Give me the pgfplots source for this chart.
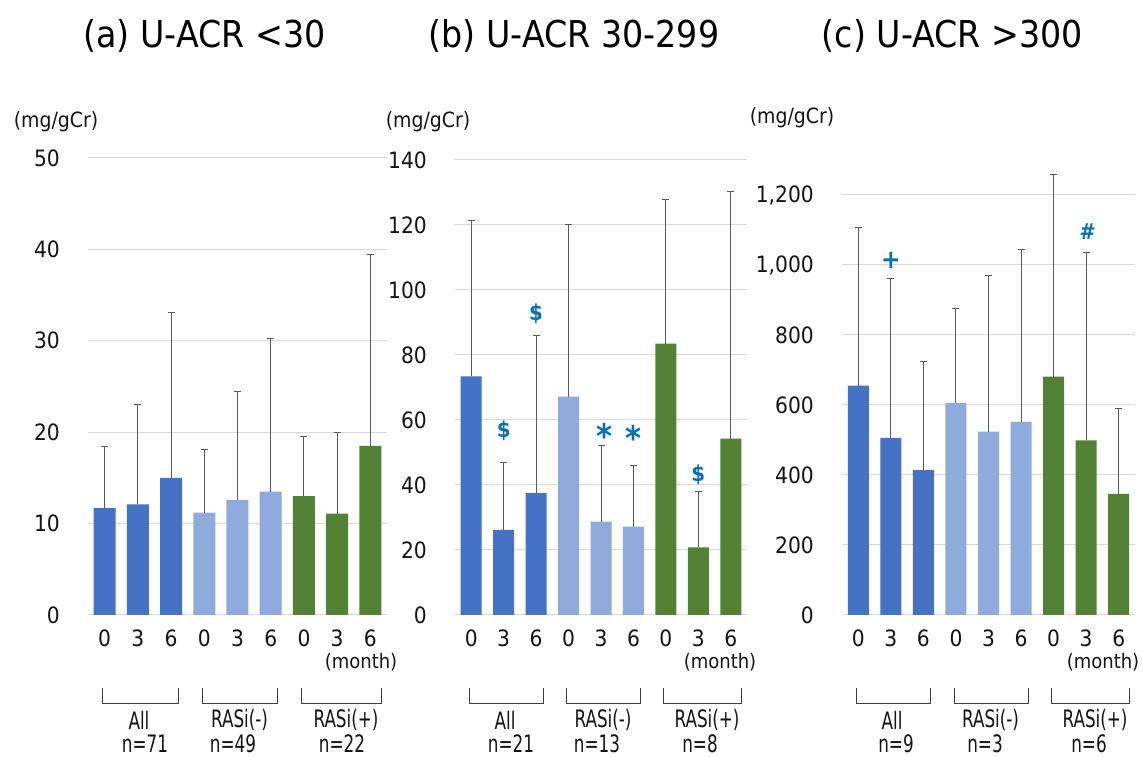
\documentclass[border=0pt]{standalone}
\usepackage{pgfplots}
\pgfplotsset{compat=1.18}
\usepackage{fontspec}
\setmainfont[FakeStretch=0.9]{DejaVu Sans}
\newfontfamily\narrowfont[FakeStretch=0.7]{DejaVu Sans}
\definecolor{cA}{HTML}{4472C4}
\definecolor{cB}{HTML}{8FAADC}
\definecolor{cC}{HTML}{548235}
\definecolor{ann}{HTML}{0070C0}
\definecolor{gridc}{HTML}{D9D9D9}
\definecolor{txt}{HTML}{141414}
\pgfplotsset{
  panel/.style={
    scale only axis, anchor=south west, height=455pt,
    xmin=-0.5, xmax=8.5, ymin=0,
    xtick={0,...,8}, xticklabels={0,3,6,0,3,6,0,3,6},
    axis line style={draw=none}, tick style={draw=none},
    ymajorgrids, grid style={draw=gridc, line width=1pt},
    /pgf/number format/assume math mode=true,
    /pgf/number format/1000 sep={,},
    tick label style={font=\fontsize{22.5}{22.5}\selectfont, text=txt, inner sep=0pt},
    yticklabel style={anchor=east, xshift=-28pt},
    xticklabel style={anchor=north, yshift=-15pt},
    clip=false,
  },
  errbar/.style={error bars/.cd, y dir=plus, y explicit,
    error bar style={draw=black!65, line width=1pt},
    error mark options={rotate=90, draw=black!65, line width=1pt, mark size=3.5pt}},
}
\tikzset{
  annot/.style={text=ann, font=\bfseries\fontsize{22}{22}\selectfont, inner sep=0pt},
  star/.style={text=ann, font=\bfseries\fontsize{34}{34}\selectfont, inner sep=0pt},
  ml/.style={font=\fontsize{20}{20}\selectfont, text=txt},
  gl/.style={font=\narrowfont\fontsize{24}{24}\selectfont, text=txt},
}
\newcommand{\grp}[2]{%
  \draw[black!75, line width=1pt] (#1pt,69pt) -- (#1pt,53pt) -- (#2pt,53pt) -- (#2pt,69pt);
}
\begin{document}
\begin{tikzpicture}[x=1pt,y=1pt]
\useasboundingbox (0pt,0pt) rectangle (1143pt,757pt);
% titles
\node[font=\fontsize{37}{40}\selectfont] at (204.5pt,721pt) {(a) U-ACR <30};
\node[font=\fontsize{37}{40}\selectfont] at (574pt,721pt) {(b) U-ACR 30-299};
\node[font=\fontsize{37}{40}\selectfont] at (952.5pt,721pt) {(c) U-ACR >300};
% units
\node[font=\fontsize{21}{21}\selectfont, text=txt] at (56pt,635pt) {(mg/gCr)};
\node[font=\fontsize{21}{21}\selectfont, text=txt] at (428pt,635pt) {(mg/gCr)};
\node[font=\fontsize{21}{21}\selectfont, text=txt] at (792pt,639pt) {(mg/gCr)};

% ---------- panel a ----------
\begin{axis}[panel, at={(88pt,142pt)}, width=299pt, height=457pt, ymax=50, ytick={0,10,...,50}]
\addplot[ybar, bar shift=0pt, bar width=22pt, fill=cA, draw=none, errbar] coordinates {(0,11.7) +- (0,6.7) (1,12.1) +- (0,10.9) (2,15.0) +- (0,18.1)};
\addplot[ybar, bar shift=0pt, bar width=22pt, fill=cB, draw=none, errbar] coordinates {(3,11.2) +- (0,6.9) (4,12.6) +- (0,11.9) (5,13.5) +- (0,16.8)};
\addplot[ybar, bar shift=0pt, bar width=22pt, fill=cC, draw=none, errbar] coordinates {(6,13.0) +- (0,6.5) (7,11.1) +- (0,8.9) (8,18.5) +- (0,20.9)};
\end{axis}

% ---------- panel b ----------
\begin{axis}[panel, at={(455pt,142pt)}, width=292pt, ymax=140, ytick={0,20,...,140}]
\addplot[ybar, bar shift=0pt, bar width=21pt, fill=cA, draw=none, errbar] coordinates {(0,73.4) +- (0,48.0) (1,26.2) +- (0,20.7) (2,37.5) +- (0,48.4)};
\addplot[ybar, bar shift=0pt, bar width=21pt, fill=cB, draw=none, errbar] coordinates {(3,67.2) +- (0,52.9) (4,28.7) +- (0,23.4) (5,27.2) +- (0,18.9)};
\addplot[ybar, bar shift=0pt, bar width=21pt, fill=cC, draw=none, errbar] coordinates {(6,83.5) +- (0,44.2) (7,20.8) +- (0,17.1) (8,54.3) +- (0,76.1)};
\node[annot] at (axis cs:1,56.7) {\$};
\node[annot] at (axis cs:2,92.6) {\$};
\node[star] at (axis cs:4.1,55) {*};
\node[star] at (axis cs:5,54.5) {*};
\node[annot] at (axis cs:7,43) {\$};
\end{axis}

% ---------- panel c ----------
\begin{axis}[panel, at={(842pt,142pt)}, width=293pt, ymax=1300, ytick={0,200,...,1200}]
\addplot[ybar, bar shift=0pt, bar width=21pt, fill=cA, draw=none, errbar] coordinates {(0,655) +- (0,451) (1,506) +- (0,455) (2,414) +- (0,309)};
\addplot[ybar, bar shift=0pt, bar width=21pt, fill=cB, draw=none, errbar] coordinates {(3,606) +- (0,271) (4,524) +- (0,445) (5,552) +- (0,491)};
\addplot[ybar, bar shift=0pt, bar width=21pt, fill=cC, draw=none, errbar] coordinates {(6,681) +- (0,577) (7,499) +- (0,536) (8,346) +- (0,243)};
\node[annot, font=\bfseries\fontsize{26}{26}\selectfont] at (axis cs:1,1013) {+};
\node[annot, font=\bfseries\itshape\fontsize{22}{22}\selectfont] at (axis cs:7,1094) {\#};
\end{axis}

% ---------- bottom labels ----------
% panel a
\node[ml] at (361pt,95pt) {(month)};
\grp{102.6}{178.1}
\grp{202.3}{277.7}
\grp{301.9}{381.4}
\node[gl] at (139pt,37pt) {All};
\node[gl] at (145pt,13pt) {n=71};
\node[gl] at (239.5pt,37pt) {RASi(-)};
\node[gl] at (233pt,13pt) {n=49};
\node[gl] at (346pt,37pt) {RASi(+)};
\node[gl] at (342pt,13pt) {n=22};
% panel b
\node[ml] at (720pt,95pt) {(month)};
\grp{469.2}{543.1}
\grp{566.6}{640.4}
\grp{663.9}{741.8}
\node[gl] at (505pt,37pt) {All};
\node[gl] at (511pt,13pt) {n=21};
\node[gl] at (603pt,37pt) {RASi(-)};
\node[gl] at (597pt,13pt) {n=13};
\node[gl] at (707pt,37pt) {RASi(+)};
\node[gl] at (700pt,13pt) {n=8};
% panel c
\node[ml] at (1103pt,95pt) {(month)};
\grp{856.3}{930.4}
\grp{954}{1028.1}
\grp{1051.6}{1129.8}
\node[gl] at (892pt,37pt) {All};
\node[gl] at (896pt,13pt) {n=9};
\node[gl] at (990.5pt,37pt) {RASi(-)};
\node[gl] at (985pt,13pt) {n=3};
\node[gl] at (1095pt,37pt) {RASi(+)};
\node[gl] at (1089pt,13pt) {n=6};
\end{tikzpicture}
\end{document}
